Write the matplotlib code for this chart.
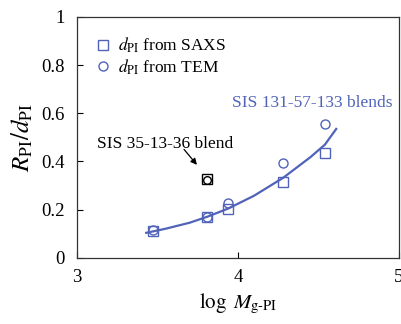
import numpy as np
import matplotlib.pyplot as plt

plt.rcParams['font.family'] = ['Liberation Serif', 'DejaVu Serif']
plt.rcParams['mathtext.fontset'] = 'stix'

# SIS 131-57-133 blends
log_m = [3.47, 3.81, 3.94, 4.28, 4.54]
r_saxs = [0.110, 0.168, 0.204, 0.315, 0.435]
r_tem = [0.115, 0.170, 0.226, 0.392, 0.555]

# SIS 35-13-36 blend
log_m_b = [3.81]
r_saxs_b = [0.326]
r_tem_b = [0.324]

# fitted curve
fit_x = [3.43, 3.55, 3.70, 3.81, 3.94, 4.10, 4.28, 4.45, 4.54, 4.61]
fit_y = [0.104, 0.121, 0.146, 0.171, 0.205, 0.258, 0.332, 0.418, 0.470, 0.535]

blue = '#5063b8'

fig = plt.figure(figsize=(4.01, 3.24), dpi=100)
ax = fig.add_axes([0.192, 0.204, 0.803, 0.744])

ax.plot(fit_x, fit_y, color=blue, lw=1.6)
p1, = ax.plot(log_m, r_saxs, 's', ms=7.5, mfc='none', mec=blue, mew=1.0)
p2, = ax.plot(log_m, r_tem, 'o', ms=6.5, mfc='none', mec=blue, mew=1.0)
ax.plot(log_m_b, r_saxs_b, 's', ms=7.5, mfc='none', mec='black', mew=1.0)
ax.plot(log_m_b, r_tem_b, 'o', ms=5.5, mfc='none', mec='black', mew=1.0)

ax.legend([p1, p2], [r'$d_{\rm PI}$ from SAXS', r'$d_{\rm PI}$ from TEM'],
          loc='upper left', bbox_to_anchor=(0.0, 0.985), frameon=False,
          fontsize=12.5, handletextpad=0.25, labelspacing=0.1, handlelength=1.2)

ax.text(3.125, 0.456, 'SIS 35-13-36 blend', fontsize=12.5, ha='left', va='baseline')
ax.annotate('', xy=(3.745, 0.386), xytext=(3.665, 0.450),
            arrowprops=dict(arrowstyle='-|>', color='black', lw=0.9,
                            shrinkA=0, shrinkB=0, mutation_scale=9))
ax.text(4.96, 0.643, 'SIS 131-57-133 blends', color=blue, fontsize=12.5,
        ha='right', va='center')

ax.set_xlim(3, 5)
ax.set_ylim(0, 1)
ax.set_xticks([3, 4, 5])
ax.set_yticks([0, 0.2, 0.4, 0.6, 0.8, 1])
ax.set_yticklabels(['0', '0.2', '0.4', '0.6', '0.8', '1'])
ax.tick_params(direction='in', length=4, width=0.8, labelsize=13.5, pad=9)
ax.tick_params(axis='x', pad=8)
for s in ax.spines.values():
    s.set_linewidth(0.9)
    s.set_color('#333333')

ax.set_xlabel(r'$\log\ M_{\rm g\text{-}PI}$', fontsize=15, labelpad=4)
ax.set_ylabel(r'$R_{\rm PI}/d_{\rm PI}$', fontsize=18, labelpad=4)

fig.savefig('out.png', dpi=100)
